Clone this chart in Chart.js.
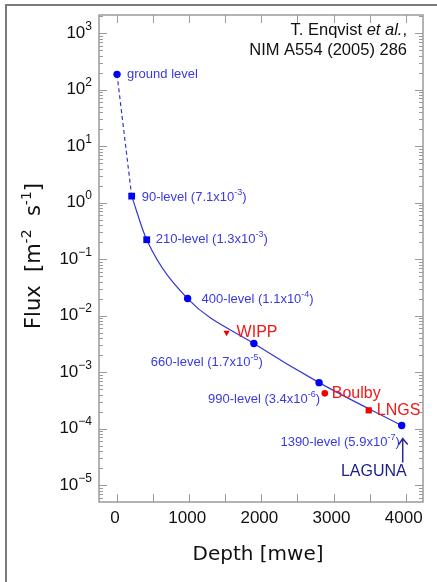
<!DOCTYPE html>
<html>
<head>
<meta charset="utf-8">
<script src="https://cdn.jsdelivr.net/npm/chart.js@4"></script>
<style>
  body { margin: 0; background: #fff; }
  canvas { display: block; }
</style>
</head>
<body>
<canvas id="fluxChart" width="437" height="582"></canvas>
<script>
// underground levels (blue) - depth in mwe, flux in m^-2 s^-1
var levelNames = ['ground level', '90-level', '210-level', '400-level', '660-level', '990-level', '1390-level'];
var levelDepth = [0, 203, 411, 978, 1896, 2800, 3945];
var levelFlux = [186, 1.3, 0.22, 0.020, 0.0032, 6.5e-4, 1.13e-4];
var levelRatioMant = [null, '7.1', '1.3', '1.1', '1.7', '3.4', '5.9'];
var levelRatioExp = [null, '-3', '-3', '-4', '-5', '-6', '-7'];

// other labs (red)
var siteNames = ['WIPP', 'Boulby', 'LNGS'];
var siteDepth = [1518, 2879, 3488];
var siteFlux = [0.005, 4.2e-4, 2.1e-4];

var xTicks = [0, 1000, 2000, 3000, 4000];
var yDecades = [-5, -4, -3, -2, -1, 0, 1, 2, 3];

function pts(xs, ys) {
    return xs.map(function(x, i) { return { x: x, y: ys[i] }; });
}

var circleIdx = [0, 3, 4, 5, 6];
var squareIdx = [1, 2];

var SANS = '"Liberation Sans", Arial, sans-serif';
var DV = '"DejaVu Sans", sans-serif';

function drawRich(ctx, parts, x, y, size, family, color, align) {
    var supSize = Math.round(size * 0.68);
    var total = 0;
    parts.forEach(function(p) {
        ctx.font = (p.style || '') + ' ' + (p.sup ? supSize : size) + 'px ' + family;
        p.w = ctx.measureText(p.t).width;
        total += p.w;
    });
    var cx = align === 'right' ? x - total : (align === 'center' ? x - total / 2 : x);
    ctx.fillStyle = color;
    ctx.textAlign = 'left';
    ctx.textBaseline = 'middle';
    parts.forEach(function(p) {
        ctx.font = (p.style || '') + ' ' + (p.sup ? supSize : size) + 'px ' + family;
        ctx.fillText(p.t, cx, p.sup ? y - size * 0.38 : y);
        cx += p.w;
    });
    return total;
}

var decor = {
    id: 'decor',
    afterDraw: function(chart) {
        var ctx = chart.ctx;
        var a = chart.chartArea;
        var xs = chart.scales.x, ys = chart.scales.y;
        ctx.save();

        // outer frame (only top and left visible)
        ctx.strokeStyle = '#7a7a7a';
        ctx.lineWidth = 2;
        ctx.beginPath();
        ctx.moveTo(6, 600);
        ctx.lineTo(6, 5);
        ctx.lineTo(440, 5);
        ctx.stroke();

        // axis box
        ctx.strokeStyle = '#9a9a9a';
        ctx.lineWidth = 1.5;
        ctx.strokeRect(a.left, a.top, a.right - a.left, a.bottom - a.top);

        // y ticks (log, mirrored, inward)
        ctx.lineWidth = 1;
        ctx.beginPath();
        for (var e = -6; e <= 3; e++) {
            for (var m = 1; m <= 9; m++) {
                var v = m * Math.pow(10, e);
                if (v < ys.min || v > ys.max) continue;
                var py = Math.round(ys.getPixelForValue(v)) + 0.5;
                var len = m === 1 ? 8 : 4;
                ctx.moveTo(a.left, py); ctx.lineTo(a.left + len, py);
                ctx.moveTo(a.right, py); ctx.lineTo(a.right - len, py);
            }
        }
        // x ticks every 500
        for (var t = 0; t <= 4000; t += 500) {
            var px = Math.round(xs.getPixelForValue(t)) + 0.5;
            ctx.moveTo(px, a.top); ctx.lineTo(px, a.top + 8);
            ctx.moveTo(px, a.bottom); ctx.lineTo(px, a.bottom - 8);
        }
        ctx.stroke();

        // y tick labels
        yDecades.forEach(function(d) {
            var py = ys.getPixelForValue(Math.pow(10, d));
            drawRich(ctx, [{ t: '10' }, { t: d < 0 ? '\u2212' + (-d) : String(d), sup: true }],
                92, py, 17, SANS, '#111', 'right');
        });
        // x tick labels
        ctx.font = '17px ' + SANS;
        ctx.fillStyle = '#111';
        ctx.textAlign = 'center';
        ctx.textBaseline = 'middle';
        xTicks.forEach(function(t) {
            ctx.fillText(String(t), xs.getPixelForValue(t) - 2, 518);
        });

        // axis titles
        ctx.font = '20px ' + DV;
        ctx.fillStyle = '#111';
        ctx.textAlign = 'center';
        ctx.fillText('Depth [mwe]', 258, 555);
        ctx.save();
        ctx.translate(35, 256);
        ctx.rotate(-Math.PI / 2);
        drawRich(ctx, [{ t: 'Flux  [m' }, { t: '-2', sup: true }, { t: '  s' }, { t: '-1', sup: true }, { t: ']' }],
            0, 0, 21, DV, '#111', 'center');
        ctx.restore();

        // reference text
        drawRich(ctx, [{ t: 'T. Enqvist ' }, { t: 'et al.', style: 'italic' }, { t: ',' }], 407, 30, 16.5, SANS, '#111', 'right');
        drawRich(ctx, [{ t: 'NIM A554 (2005) 286' }], 407, 50, 16.5, SANS, '#111', 'right');

        // level labels
        var blueMeta = [chart.getDatasetMeta(0), chart.getDatasetMeta(1)];
        var lvlPos = {};
        circleIdx.forEach(function(k, j) { lvlPos[k] = blueMeta[0].data[j]; });
        squareIdx.forEach(function(k, j) { lvlPos[k] = blueMeta[1].data[j]; });
        var off = [[10, 0, 'left'], [10, 1, 'left'], [9, 0, 'left'], [14, 1, 'left'],
                   [9, 19, 'right'], [1, 17, 'right'], [-2, 17, 'right']];
        var blueTxt = '#3a3ae0';
        levelNames.forEach(function(name, k) {
            var p = lvlPos[k];
            var parts = levelRatioMant[k] === null ? [{ t: name }] :
                [{ t: name + ' (' + levelRatioMant[k] + 'x10' }, { t: levelRatioExp[k], sup: true }, { t: ')' }];
            drawRich(ctx, parts, p.x + off[k][0], p.y + off[k][1], 13, SANS, blueTxt, off[k][2]);
        });

        // site labels
        var redMeta = chart.getDatasetMeta(2);
        var sOff = [[10, 0], [7, 0], [8, 0]];
        siteNames.forEach(function(name, k) {
            var p = redMeta.data[k];
            drawRich(ctx, [{ t: name }], p.x + sOff[k][0], p.y + sOff[k][1], 16, SANS, '#f21818', 'left');
        });

        // LAGUNA arrow to the deepest level
        var lp = lvlPos[6];
        ctx.strokeStyle = '#2a2a96';
        ctx.lineWidth = 1.5;
        ctx.beginPath();
        ctx.moveTo(lp.x + 1, lp.y + 37);
        ctx.lineTo(lp.x + 1, lp.y + 13);
        ctx.moveTo(lp.x - 3, lp.y + 19);
        ctx.lineTo(lp.x + 1, lp.y + 13);
        ctx.lineTo(lp.x + 6, lp.y + 19);
        ctx.stroke();
        drawRich(ctx, [{ t: 'LAGUNA' }], lp.x + 5, lp.y + 46, 16, SANS, '#1c1c8c', 'right');

        ctx.restore();
    }
};

new Chart(document.getElementById('fluxChart').getContext('2d'), {
    type: 'scatter',
    data: {
        datasets: [{
            label: 'levels (circle)',
            data: circleIdx.map(function(k) { return { x: levelDepth[k], y: levelFlux[k] }; }),
            pointStyle: 'circle',
            pointRadius: 3.7,
            backgroundColor: '#0000f5',
            borderColor: '#0000f5',
            borderWidth: 0
        }, {
            label: 'levels (square)',
            data: squareIdx.map(function(k) { return { x: levelDepth[k], y: levelFlux[k] }; }),
            pointStyle: 'rect',
            pointRadius: 4.8,
            backgroundColor: '#0000f5',
            borderColor: '#0000f5',
            borderWidth: 0
        }, {
            label: 'labs',
            data: pts(siteDepth, siteFlux),
            pointStyle: ['triangle', 'circle', 'rect'],
            pointRotation: [180, 0, 0],
            pointRadius: [3.6, 3.3, 4.4],
            backgroundColor: '#f00000',
            borderColor: '#f00000',
            borderWidth: 0
        }, {
            label: 'fit',
            data: pts(levelDepth.slice(1), levelFlux.slice(1)),
            showLine: true,
            cubicInterpolationMode: 'monotone',
            borderColor: '#3535d8',
            borderWidth: 1.2,
            pointRadius: 0
        }, {
            label: 'surface',
            data: pts(levelDepth.slice(0, 2), levelFlux.slice(0, 2)),
            showLine: true,
            borderColor: '#3535d8',
            borderWidth: 1.2,
            borderDash: [4, 3],
            pointRadius: 0
        }]
    },
    options: {
        responsive: false,
        animation: false,
        layout: { padding: { left: 99, top: 15, right: 14, bottom: 80 } },
        plugins: {
            legend: { display: false },
            tooltip: { enabled: false }
        },
        scales: {
            x: { type: 'linear', min: -250, max: 4240, display: false },
            y: { type: 'logarithmic', min: Math.pow(10, -5.3), max: Math.pow(10, 3.32), display: false }
        }
    },
    plugins: [decor]
});
</script>
</body>
</html>
